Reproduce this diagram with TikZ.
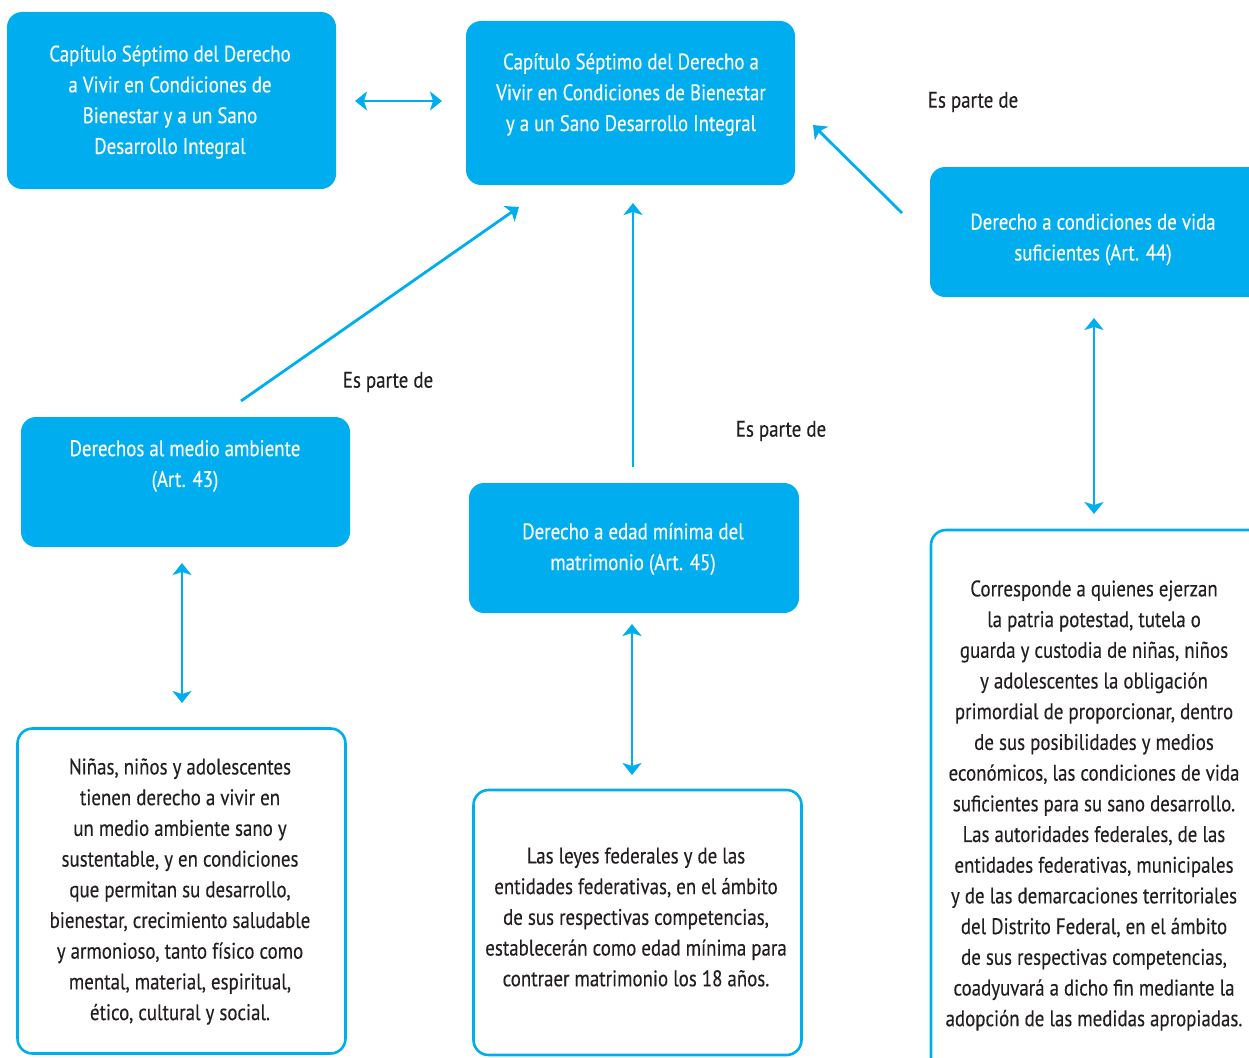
\documentclass[tikz,border=0pt]{standalone}
\usepackage{fontspec}
\setmainfont{PT Sans}[FakeStretch=0.84, FakeBold=0.3]
\usetikzlibrary{arrows.meta}
\definecolor{cyanbox}{HTML}{00AEEF}
\definecolor{inkblack}{HTML}{231F20}
\tikzset{
  fillbox/.style={draw=none, fill=cyanbox, rounded corners=15pt, inner sep=0pt},
  linebox/.style={draw=cyanbox, line width=2.6pt, fill=none, rounded corners=15pt, inner sep=0pt},
  wtext/.style={text=white, align=center, inner sep=0pt, font=\fontsize{22.5}{30.8}\selectfont},
  btext/.style={text=inkblack, align=center, inner sep=0pt, font=\fontsize{22.5}{30.7}\selectfont},
  conn/.style={draw=cyanbox, line width=2.8pt, -{Stealth[length=12pt, width=19pt, inset=3pt]}},
  dconn/.style={draw=cyanbox, line width=2.8pt, {Stealth[length=12pt, width=19pt, inset=3pt]}-{Stealth[length=12pt, width=19pt, inset=3pt]}}
}
\begin{document}
\begin{tikzpicture}[x=1pt, y=-1pt]
\useasboundingbox (0,0) rectangle (1249,1057);
% filled boxes
\node[fillbox, minimum width=329pt, minimum height=177pt] (A) at (171.5,100.5) {};
\node[fillbox, minimum width=329pt, minimum height=164pt] (B) at (630.5,103) {};
\node[fillbox, minimum width=340pt, minimum height=130pt] (C) at (1100,232) {};
\node[fillbox, minimum width=329pt, minimum height=130pt] (D) at (185.5,482) {};
\node[fillbox, minimum width=330pt, minimum height=130pt] (E) at (634,548) {};
% outlined boxes
\node[linebox, minimum width=328pt, minimum height=325pt] (F) at (181.5,891) {};
\node[linebox, minimum width=328pt, minimum height=265pt] (G) at (637.5,922.5) {};
\node[linebox, minimum width=340pt, minimum height=560pt] (H) at (1101,810) {};
% texts
\node[wtext] (tA) at (170,102) {Capítulo Séptimo del Derecho\\a Vivir en Condiciones de\\Bienestar y a un Sano\\Desarrollo Integral};
\node[wtext] (tB) at (631,94.5) {Capítulo Séptimo del Derecho a\\Vivir en Condiciones de Bienestar\\y a un Sano Desarrollo Integral};
\node[wtext] (tC) at (1093,239.5) {Derecho a condiciones de vida\\suficientes (Art. 44)};
\node[wtext] (tD) at (185,466) {Derechos al medio ambiente\\(Art. 43)};
\node[wtext] (tE) at (633,549) {Derecho a edad mínima del\\matrimonio (Art. 45)};
\node[btext] (tF) at (180,891.5) {Niñas, niños y adolescentes\\tienen derecho a vivir en\\un medio ambiente sano y\\sustentable, y en condiciones\\que permitan su desarrollo,\\bienestar, crecimiento saludable\\y armonioso, tanto físico como\\mental, material, espiritual,\\ético, cultural y social.};
\node[btext] (tG) at (636,917) {Las leyes federales y de las\\entidades federativas, en el ámbito\\de sus respectivas competencias,\\establecerán como edad mínima para\\contraer matrimonio los 18 años.};
\node[btext] (tH) at (1094,805.5) {Corresponde a quienes ejerzan\\la patria potestad, tutela o\\guarda y custodia de niñas, niños\\y adolescentes la obligación\\primordial de proporcionar, dentro\\de sus posibilidades y medios\\económicos, las condiciones de vida\\suficientes para su sano desarrollo.\\Las autoridades federales, de las\\entidades federativas, municipales\\y de las demarcaciones territoriales\\del Distrito Federal, en el ámbito\\de sus respectivas competencias,\\coadyuvará a dicho fin mediante la\\adopción de las medidas apropiadas.};
% labels
\node[btext] (l1) at (973,102) {Es parte de};
\node[btext] (l2) at (388,382) {Es parte de};
\node[btext] (l3) at (781,431) {Es parte de};
% connector ends
\coordinate (ab1) at (355,101);
\coordinate (ab2) at (442,101);
\coordinate (cb1) at (902,213);
\coordinate (cb2) at (813,125);
\coordinate (db1) at (241,401);
\coordinate (db2) at (519,207);
\coordinate (eb1) at (633,467);
\coordinate (eb2) at (633,203);
\coordinate (df1) at (182,563);
\coordinate (df2) at (182,703);
\coordinate (eg1) at (632,624);
\coordinate (eg2) at (632,775);
\coordinate (ch1) at (1094,318);
\coordinate (ch2) at (1094,514);
% connectors
\draw[dconn] (ab1) -- (ab2);
\draw[conn] (cb1) -- (cb2);
\draw[conn] (db1) -- (db2);
\draw[conn] (eb1) -- (eb2);
\draw[dconn] (df1) -- (df2);
\draw[dconn] (eg1) -- (eg2);
\draw[dconn] (ch1) -- (ch2);
\end{tikzpicture}
\end{document}
